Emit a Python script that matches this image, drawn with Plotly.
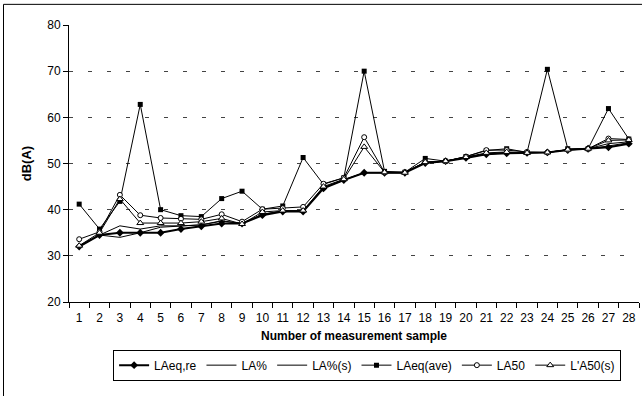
import plotly.graph_objects as go

samples = [str(i) for i in range(1, 29)]

LAeq_re = [32, 34.5, 35, 35, 35, 35.8, 36.4, 37, 37, 38.8, 39.6, 39.6, 44.6, 46.4, 48, 48, 48, 50.1, 50.5, 51.2, 52, 52.2, 52.3, 52.4, 52.9, 53.2, 53.5, 54.3]
LA_pct = [32, 34.5, 36.5, 35.8, 36.5, 36.5, 36.7, 37.6, 37, 39, 39.7, 39.7, 44.8, 46.5, 48, 48, 48, 50.2, 50.5, 51.4, 52.1, 52.4, 52.4, 52.4, 53, 53.2, 54.3, 54.7]
LA_pct_s = [32.2, 34.5, 34, 35, 36.2, 36.5, 36.7, 37.5, 37, 39, 39.7, 39.7, 44.7, 46.4, 48, 48, 48, 50.2, 50.5, 51.3, 52, 52.3, 52.3, 52.4, 52.9, 53.2, 53.8, 54.5]
LAeq_ave = [41.2, 35.8, 41.8, 62.8, 40, 38.7, 38.5, 42.4, 44, 40.1, 40.8, 51.3, 45.5, 46.9, 70, 48.3, 48.1, 51.1, 50.5, 51.5, 52.8, 53.2, 52.4, 70.4, 53.2, 53.2, 61.9, 55.3]
LA50 = [33.6, 35.2, 43.2, 38.8, 38.2, 38, 37.9, 39, 37.4, 40.1, 40.3, 40.6, 45.6, 46.9, 55.7, 48.1, 48.1, 50.3, 50.5, 51.5, 52.9, 52.9, 52.5, 52.4, 53, 53.2, 55.4, 55.2]
L_A50_s = [32.2, 35, 42.3, 37.1, 37.1, 37.1, 37.4, 38.1, 36.9, 39.5, 39.8, 39.8, 45, 46.6, 53.6, 48.1, 48, 50.3, 50.5, 51.4, 52.3, 52.5, 52.3, 52.4, 53, 53.2, 55, 55.1]

y_ticks = [20, 30, 40, 50, 60, 70, 80]

FONT = "Liberation Sans, Arial, sans-serif"

fig = go.Figure()
fig.add_trace(go.Scatter(x=samples, y=LAeq_re, name="LAeq,re", mode="lines+markers",
                         line=dict(color="black", width=2),
                         marker=dict(symbol="diamond", size=6, color="black")))
fig.add_trace(go.Scatter(x=samples, y=LA_pct, name="LA%", mode="lines",
                         line=dict(color="black", width=1)))
fig.add_trace(go.Scatter(x=samples, y=LA_pct_s, name="LA%(s)", mode="lines",
                         line=dict(color="black", width=1)))
fig.add_trace(go.Scatter(x=samples, y=LAeq_ave, name="LAeq(ave)", mode="lines+markers",
                         line=dict(color="black", width=1),
                         marker=dict(symbol="square", size=5, color="black")))
fig.add_trace(go.Scatter(x=samples, y=LA50, name="LA50", mode="lines+markers",
                         line=dict(color="black", width=1),
                         marker=dict(symbol="circle", size=5, color="white",
                                     line=dict(color="black", width=1))))
fig.add_trace(go.Scatter(x=samples, y=L_A50_s, name="L'A50(s)", mode="lines+markers",
                         line=dict(color="black", width=1),
                         marker=dict(symbol="triangle-up", size=6, color="white",
                                     line=dict(color="black", width=1))))

fig.update_layout(
    width=642, height=396,
    margin=dict(l=69, r=3, t=25, b=94),
    paper_bgcolor="white", plot_bgcolor="white",
    font=dict(family=FONT, size=11, color="black"),
    showlegend=True,
    legend=dict(orientation="h", x=0.523, xanchor="center", y=-0.172, yanchor="top",
                bordercolor="black", borderwidth=1, font=dict(size=12),
                itemwidth=30, tracegroupgap=0),
    xaxis=dict(type="category", range=[-0.5, 27.5], tickson="boundaries", ticks="outside", ticklen=5,
               tickcolor="black", showline=True, linecolor="black", linewidth=1,
               showgrid=False, tickfont=dict(size=12), tickangle=0, automargin=False,
               ticklabelstandoff=5,
               title=dict(text="<b>Number of measurement sample</b>", font=dict(size=12), standoff=7)),
    yaxis=dict(range=[20, 80], tickvals=y_ticks, ticks="outside", ticklen=5,
               tickcolor="black", showline=True, linecolor="black", linewidth=1,
               showgrid=True, gridcolor="#444", griddash="4px,15px", gridwidth=1,
               zeroline=False, tickfont=dict(size=12), automargin=False,
               title=dict(text="<b>dB(A)</b>", font=dict(size=13), standoff=12)),
    shapes=[dict(type="rect", xref="paper", yref="paper",
                 x0=(3.5 - 69) / 570, x1=(648 - 69) / 570,
                 y0=(302.3 - 400) / 277.6, y1=(302.3 - 4) / 277.6,
                 line=dict(color="black", width=1), layer="below")],
)

fig.write_html("out.html")
